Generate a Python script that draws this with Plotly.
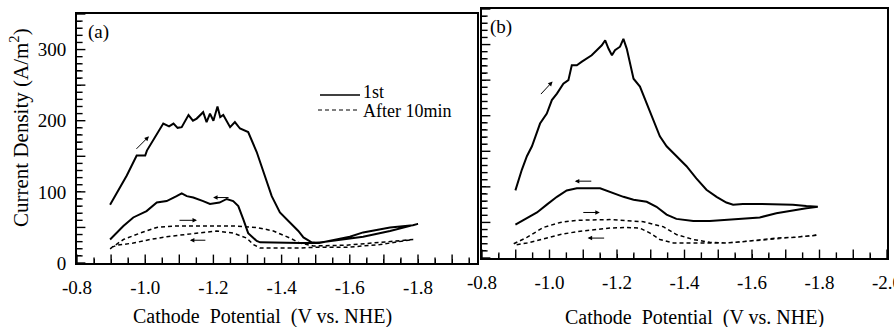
import plotly.graph_objects as go

# ---------------- data ----------------
# Panel (a) - 1st scan (forward then reverse)
a1_x = [-0.897, -0.92, -0.946, -0.975, -1.0, -1.005, -1.034, -1.053, -1.07, -1.083, -1.095, -1.107,
        -1.127, -1.14, -1.151, -1.17, -1.18, -1.19, -1.2, -1.212, -1.22, -1.229, -1.249, -1.263,
        -1.278, -1.302, -1.327, -1.346, -1.371, -1.395, -1.425, -1.449, -1.464, -1.488, -1.51,
        -1.542, -1.6, -1.639, -1.718, -1.785, -1.8,
        -1.76, -1.718, -1.639, -1.542, -1.5, -1.454, -1.4, -1.356, -1.337, -1.327, -1.302, -1.288,
        -1.273, -1.258, -1.239, -1.218, -1.19, -1.17, -1.141, -1.122, -1.107, -1.092, -1.063,
        -1.034, -1.004, -0.965, -0.936, -0.897]
a1_y = [82, 102, 123, 151, 151, 158, 180, 196, 192, 196, 190, 191,
        208, 200, 203, 212, 198, 210, 200, 220, 205, 208, 191, 198,
        189, 184, 156, 128, 94, 71, 57, 45, 36, 29, 28,
        31, 37, 43, 50, 53, 55,
        50, 45, 37, 30, 28, 28, 28, 28, 29, 31, 42, 61,
        80, 87, 90, 85, 83, 87, 92, 94, 98, 94, 87,
        85, 73, 64, 52, 33]

# Panel (a) - after 10 min
a2_x = [-0.897, -0.936, -0.985, -1.034, -1.083, -1.16, -1.258, -1.327, -1.376, -1.4, -1.425, -1.454,
        -1.493, -1.59, -1.689, -1.786,
        -1.689, -1.59, -1.493, -1.454, -1.337, -1.317, -1.298, -1.258, -1.209, -1.16, -1.11,
        -1.063, -1.014, -0.965, -0.917, -0.897]
a2_y = [20, 33, 42, 50, 52, 52, 52, 50, 45, 40, 35, 28,
        24, 25, 29, 33,
        26, 22, 22, 21, 21, 26, 35, 42, 45, 42, 40,
        37, 33, 28, 25, 21]

# Panel (b) - 1st scan
b1_x = [-0.899, -0.918, -0.933, -0.948, -0.972, -0.992, -1.007, -1.022, -1.041, -1.056, -1.066,
        -1.081, -1.096, -1.11, -1.125, -1.14, -1.155, -1.165, -1.175, -1.185, -1.194, -1.209,
        -1.219, -1.229, -1.239, -1.249, -1.268, -1.288, -1.307, -1.327, -1.347, -1.376, -1.406,
        -1.435, -1.465, -1.495, -1.524, -1.544, -1.573, -1.623, -1.672, -1.721, -1.761, -1.795,
        -1.761, -1.721, -1.672, -1.623, -1.573, -1.524, -1.475, -1.426, -1.376, -1.347, -1.317,
        -1.288, -1.249, -1.219, -1.189, -1.15, -1.12, -1.081, -1.051, -1.022, -0.992, -0.963,
        -0.933, -0.899]
b1_y = [95, 124, 143, 157, 189, 203, 222, 231, 245, 250, 271,
        271, 276, 280, 285, 292, 299, 306, 294, 285, 292, 297,
        308, 294, 273, 252, 241, 217, 194, 171, 157, 143, 129,
        112, 96, 86, 78, 75, 76, 76, 75, 75, 73, 72,
        70, 67, 63, 57, 55, 53, 52, 52, 55, 61, 72,
        79, 82, 86, 91, 98, 98, 98, 95, 86, 75, 64,
        56, 47]

# Panel (b) - after 10 min
b2_x = [-0.894, -0.933, -0.982, -1.032, -1.081, -1.179, -1.278, -1.337, -1.376, -1.426, -1.475,
        -1.524, -1.573, -1.623, -1.672, -1.721, -1.795,
        -1.721, -1.623, -1.573, -1.524, -1.426, -1.367, -1.327, -1.298, -1.268, -1.229, -1.179,
        -1.13, -1.081, -1.032, -0.982, -0.933, -0.894]
b2_y = [20, 29, 43, 50, 53, 54, 51, 44, 33, 26, 22,
        21, 23, 26, 28, 29, 32,
        28, 25, 22, 21, 21, 21, 26, 35, 42, 43, 42,
        40, 37, 33, 27, 21, 18]

series_names = ["1st", "After 10min"]
x_labels_a = {-0.8: "-0.8", -1.0: "-1.0", -1.2: "-1.2", -1.4: "-1.4", -1.6: "-1.6", -1.8: "-1.8"}
x_labels_b = {-0.8: "-0.8", -1.0: "-1.0", -1.2: "-1.2", -1.4: "-1.4", -1.6: "-1.6", -1.8: "-1.8",
              -2.0: "-2.0"}
y_labels = {0: "0", 100: "100", 200: "200", 300: "300"}

# ---------------- figure ----------------
FONT = "'Liberation Serif', 'Times New Roman', 'DejaVu Serif', serif"
fig = go.Figure()

solid = dict(color="black", width=2)
dashed = dict(color="black", width=1.5, dash="4px,3px")

fig.add_trace(go.Scatter(x=a1_x, y=a1_y, mode="lines", line=solid, name=series_names[0],
                         xaxis="x", yaxis="y", showlegend=False))
fig.add_trace(go.Scatter(x=a2_x, y=a2_y, mode="lines", line=dashed, name=series_names[1],
                         xaxis="x", yaxis="y", showlegend=False))
fig.add_trace(go.Scatter(x=b1_x, y=b1_y, mode="lines", line=solid, name=series_names[0],
                         xaxis="x2", yaxis="y2", showlegend=False))
fig.add_trace(go.Scatter(x=b2_x, y=b2_y, mode="lines", line=dashed, name=series_names[1],
                         xaxis="x2", yaxis="y2", showlegend=False))

W, H = 894, 327
ML, MR, MT, MB = 77, 7, 9, 64
PW = W - ML - MR
PH = H - MT - MB

def px_x(p):
    return (p - ML) / PW

def px_y(p):
    return (H - MB - p) / PH

# fine tick positions (every 0.05 V and every 10 A/m2); labels only where given above
x_fine = [round(-0.8 - 0.05 * i, 2) for i in range(25)]
y_fine = [10 * i for i in range(36)]
X_END_A = -1.973

# inside tick marks drawn as axis-clipped line markers (half of each marker lies inside the box)
def tick_marks(xs, ys, symbol, size, xa, ya):
    fig.add_trace(go.Scatter(x=xs, y=ys, mode="markers", xaxis=xa, yaxis=ya,
                             marker=dict(symbol=symbol, size=size, color="black",
                                         line=dict(color="black", width=1.4)),
                             cliponaxis=True, hoverinfo="skip", showlegend=False))

for xa, ya, xend, labels in (("x", "y", X_END_A, x_labels_a), ("x2", "y2", -2.0, x_labels_b)):
    xs_minor = [v for v in x_fine if v >= xend and round(v * 10) != v * 10 and v not in labels]
    xs_major = [v for v in x_fine if v >= xend and v not in xs_minor]
    tick_marks(xs_minor, [0] * len(xs_minor), "line-ns", 8, xa, ya)
    tick_marks(xs_major, [0] * len(xs_major), "line-ns", 12, xa, ya)
    ys_minor = [v for v in y_fine if v % 50 != 0]
    ys_major = [v for v in y_fine if v % 50 == 0]
    tick_marks([-0.8] * len(ys_minor), ys_minor, "line-ew", 8, xa, ya)
    tick_marks([-0.8] * len(ys_major), ys_major, "line-ew", 12, xa, ya)

def xt(labels):
    return dict(tickvals=x_fine, ticktext=[labels.get(v, "") for v in x_fine])

tickfont = dict(family=FONT, size=19, color="black")
common_x = dict(showgrid=False, zeroline=False, showline=True, linewidth=2, linecolor="black",
                mirror=True, ticks="inside", ticklen=4, tickwidth=1.2, tickcolor="black",
                tickmode="array", tickfont=tickfont, ticklabeloverflow="allow",
                ticklabelstandoff=6)
common_y = dict(showgrid=False, zeroline=False, showline=True, linewidth=2, linecolor="black",
                mirror=True, ticks="inside", ticklen=4, tickwidth=1.2, tickcolor="black",
                tickmode="array", tickvals=y_fine, ticktext=[y_labels.get(v, "") for v in y_fine],
                tickfont=tickfont, range=[0, 350], ticklabelstandoff=5)

fig.update_layout(
    template="none",
    width=W, height=H,
    margin=dict(l=ML, r=MR, t=MT, b=MB),
    paper_bgcolor="white", plot_bgcolor="white",
    font=dict(family=FONT, color="black"),
    showlegend=False,
    xaxis=dict(common_x, **xt(x_labels_a), domain=[0, px_x(477)], range=[-0.8, X_END_A],
               anchor="y"),
    yaxis=dict(common_y, domain=[0, px_y(14)], anchor="x"),
    xaxis2=dict(common_x, **xt(x_labels_b), domain=[px_x(482), 1], range=[-0.8, -2.0],
                anchor="y2"),
    yaxis2=dict(common_y, domain=[px_y(258), 1], anchor="x2", showticklabels=False),
)

ann = []
# axis titles
ann.append(dict(text="Current Density (A/m<sup>2</sup>)", xref="paper", yref="paper",
                x=px_x(20), y=px_y(128), textangle=-90, showarrow=False,
                font=dict(family=FONT, size=21, color="black"), xanchor="center", yanchor="middle"))
ann.append(dict(text="Cathode  Potential  (V vs. NHE)", xref="paper", yref="paper",
                x=px_x(262), y=px_y(316), showarrow=False,
                font=dict(family=FONT, size=20, color="black"), xanchor="center", yanchor="middle"))
ann.append(dict(text="Cathode  Potential  (V vs. NHE)", xref="paper", yref="paper",
                x=px_x(694), y=px_y(317), showarrow=False,
                font=dict(family=FONT, size=20, color="black"), xanchor="center", yanchor="middle"))
# panel labels
ann.append(dict(text="(a)", xref="paper", yref="paper", x=px_x(86), y=px_y(32), showarrow=False,
                font=dict(family=FONT, size=19, color="black"), xanchor="left", yanchor="middle"))
ann.append(dict(text="(b)", xref="paper", yref="paper", x=px_x(488), y=px_y(27), showarrow=False,
                font=dict(family=FONT, size=19, color="black"), xanchor="left", yanchor="middle"))
# legend texts
ann.append(dict(text=series_names[0], xref="paper", yref="paper", x=px_x(361), y=px_y(92),
                showarrow=False, font=dict(family=FONT, size=18, color="black"),
                xanchor="left", yanchor="middle"))
ann.append(dict(text=series_names[1], xref="paper", yref="paper", x=px_x(361), y=px_y(111),
                showarrow=False, font=dict(family=FONT, size=18, color="black"),
                xanchor="left", yanchor="middle"))

# scan-direction arrows (head position in data coords, tail offset in px)
arrows = [
    ("x", "y", -1.011, 178, -14, 14),
    ("x", "y", -1.199, 92, 17, 0),
    ("x", "y", -1.152, 60, -19, 0),
    ("x", "y", -1.131, 32, 17, 0),
    ("x2", "y2", -1.009, 248, -13, 14),
    ("x2", "y2", -1.075, 108, 18, 0),
    ("x2", "y2", -1.149, 64, -18, 0),
    ("x2", "y2", -1.113, 28, 18, 0),
]
for xr, yr, hx, hy, tx, ty in arrows:
    ann.append(dict(xref=xr, yref=yr, x=hx, y=hy, ax=tx, ay=ty, text="", showarrow=True,
                    arrowhead=2, arrowsize=0.9, arrowwidth=1, arrowcolor="black"))

fig.update_layout(annotations=ann)

# legend sample lines
fig.add_shape(type="line", xref="paper", yref="paper", x0=px_x(320), x1=px_x(360),
              y0=px_y(95), y1=px_y(95), line=dict(color="black", width=1.5))
fig.add_shape(type="line", xref="paper", yref="paper", x0=px_x(318), x1=px_x(358),
              y0=px_y(110), y1=px_y(110), line=dict(color="black", width=1.2, dash="4px,3px"))

fig.write_html("out.html")
